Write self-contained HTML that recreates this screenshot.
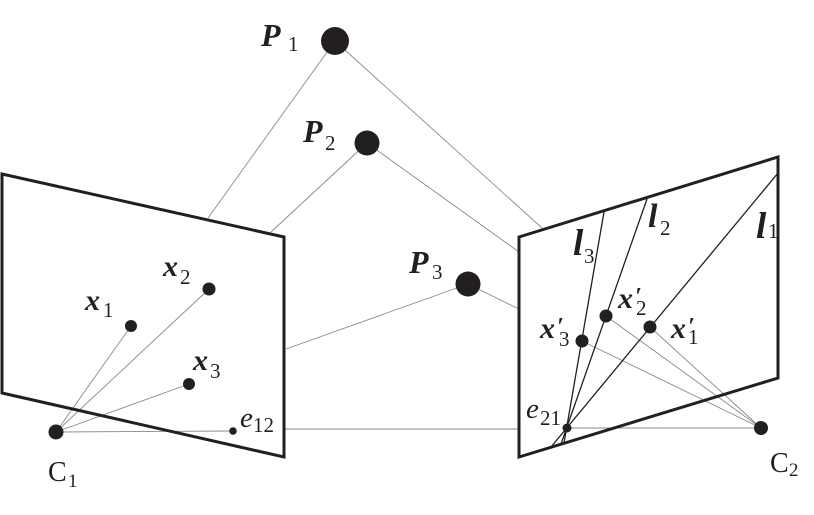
<!DOCTYPE html>
<html>
<head>
<meta charset="utf-8">
<style>
  html,body{margin:0;padding:0;background:#fff;}
  svg{display:block;}
  .bi{font-family:"Liberation Serif",serif;font-weight:bold;font-style:italic;fill:#231f20;}
  .it{font-family:"Liberation Serif",serif;font-style:italic;fill:#231f20;}
  .rg{font-family:"Liberation Serif",serif;fill:#231f20;}
</style>
</head>
<body>
<svg width="814" height="515" viewBox="0 0 814 515" xmlns="http://www.w3.org/2000/svg">
  <g stroke="#8a8a8a" stroke-width="0.9" fill="none">
    <line x1="335" y1="41" x2="208" y2="218"/>
    <line x1="335" y1="41" x2="542" y2="228"/>
    <line x1="367" y1="143" x2="271" y2="232"/>
    <line x1="367" y1="143" x2="519" y2="252"/>
    <line x1="468" y1="284" x2="286" y2="349"/>
    <line x1="468" y1="284" x2="519" y2="309"/>
    <line x1="56" y1="432" x2="131" y2="326"/>
    <line x1="56" y1="432" x2="209" y2="289"/>
    <line x1="56" y1="432" x2="189" y2="384"/>
    <line x1="56" y1="432" x2="233" y2="431"/>
    <line x1="284" y1="429" x2="519" y2="429"/>
    <line x1="567" y1="428" x2="761" y2="428"/>
    <line x1="761" y1="428" x2="650" y2="327"/>
    <line x1="761" y1="428" x2="606" y2="316"/>
    <line x1="761" y1="428" x2="582" y2="341"/>
  </g>

  <g stroke="#231f20" stroke-width="1.3" fill="none">
    <line x1="778" y1="173" x2="551" y2="447"/>
    <line x1="647" y1="199" x2="561" y2="444"/>
    <line x1="604" y1="212" x2="564" y2="443"/>
  </g>

  <g stroke="#231f20" stroke-width="3" fill="none" stroke-linejoin="miter">
    <polygon points="2,174 284,237 284,457 2,393"/>
    <polygon points="519,237 778,157 778,378 519,457"/>
  </g>

  <g fill="#231f20">
    <circle cx="335" cy="41" r="14"/>
    <circle cx="367" cy="143" r="12.5"/>
    <circle cx="468" cy="284" r="12.5"/>
    <circle cx="56" cy="432" r="7.5"/>
    <circle cx="131" cy="326" r="6"/>
    <circle cx="209" cy="289" r="6.5"/>
    <circle cx="189" cy="384" r="6"/>
    <circle cx="233" cy="431" r="3.8"/>
    <circle cx="761" cy="428" r="7"/>
    <circle cx="567" cy="428" r="4.5"/>
    <circle cx="650" cy="327" r="6.5"/>
    <circle cx="606" cy="316" r="6.5"/>
    <circle cx="582" cy="341" r="6.5"/>
  </g>

  <text class="bi" x="261" y="46" font-size="32">P</text>
  <text class="rg" x="288" y="51" font-size="21">1</text>

  <text class="bi" x="303" y="142" font-size="32">P</text>
  <text class="rg" x="325" y="150" font-size="21">2</text>

  <text class="bi" x="409" y="273" font-size="32">P</text>
  <text class="rg" x="432" y="279" font-size="21">3</text>

  <text class="bi" x="85" y="310" font-size="30">x</text>
  <text class="rg" x="103" y="317" font-size="21">1</text>

  <text class="bi" x="163" y="276" font-size="30">x</text>
  <text class="rg" x="180" y="284" font-size="21">2</text>

  <text class="bi" x="193" y="370" font-size="30">x</text>
  <text class="rg" x="210" y="378" font-size="21">3</text>

  <text class="it" x="240" y="427" font-size="29">e</text>
  <text class="rg" x="253" y="432" font-size="21">12</text>

  <text class="rg" x="48" y="481" font-size="28">C</text>
  <text class="rg" x="68" y="487" font-size="19">1</text>

  <text class="rg" x="770" y="472" font-size="28">C</text>
  <text class="rg" x="789" y="476" font-size="19">2</text>

  <text class="it" x="526" y="418" font-size="29">e</text>
  <text class="rg" x="540" y="425" font-size="21">21</text>

  <text class="bi" x="540" y="338" font-size="30">x</text>
  <text class="bi" x="557" y="334" font-size="24">′</text>
  <text class="rg" x="559" y="346" font-size="21">3</text>

  <text class="bi" x="618" y="308" font-size="30">x</text>
  <text class="bi" x="635" y="304" font-size="24">′</text>
  <text class="rg" x="636" y="315" font-size="21">2</text>

  <text class="bi" x="671" y="338" font-size="30">x</text>
  <text class="bi" x="688" y="334" font-size="24">′</text>
  <text class="rg" x="688" y="344" font-size="21">1</text>

  <text class="bi" x="573" y="255" font-size="37">l</text>
  <text class="rg" x="584" y="263" font-size="21">3</text>

  <text class="bi" x="648" y="227" font-size="34">l</text>
  <text class="rg" x="660" y="235" font-size="21">2</text>

  <text class="bi" x="756" y="238" font-size="37">l</text>
  <text class="rg" x="768" y="238" font-size="21">1</text>
</svg>
</body>
</html>
